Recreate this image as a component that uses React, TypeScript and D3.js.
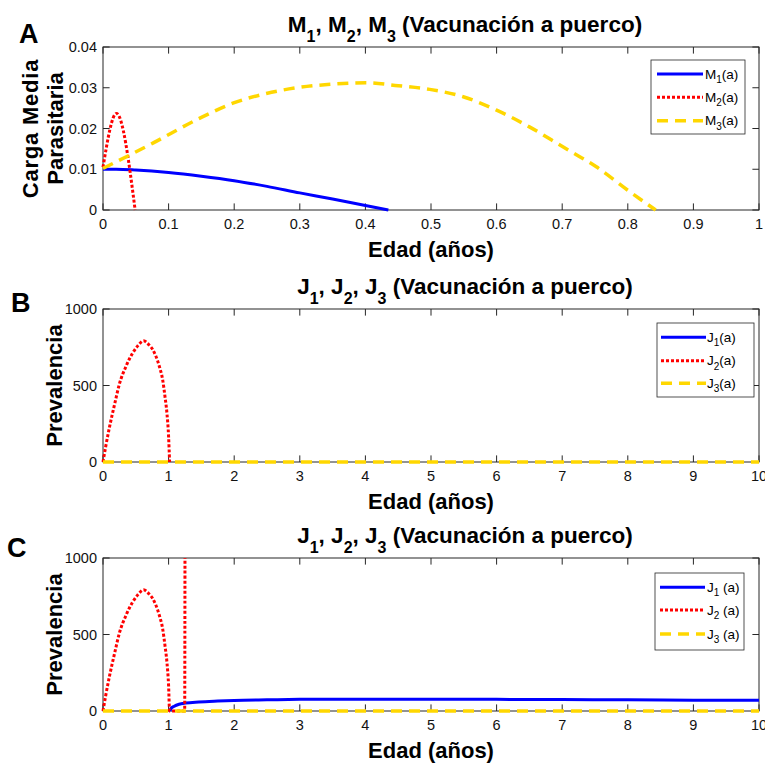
import React from "react";
import * as d3 from "d3";

// ---------- DATA ----------
// Panel A: mean parasite load
const ageA_M1 = [0, 0.02, 0.05, 0.1, 0.15, 0.2, 0.25, 0.3, 0.35, 0.4, 0.435];
const valA_M1 = [0.01, 0.01, 0.0098, 0.0092, 0.0083, 0.0072, 0.0058, 0.0042, 0.0027, 0.0011, 0];
const ageA_M2 = [0, 0.0205, 0.049];
const valA_M2 = [0.0105, 0.0237, 0];
const ageA_M3 = [0, 0.076, 0.147, 0.198, 0.249, 0.3, 0.351, 0.401, 0.45, 0.498, 0.549, 0.6, 0.65, 0.701, 0.752, 0.803, 0.8425];
const valA_M3 = [0.0102, 0.0164, 0.0225, 0.0262, 0.0286, 0.0301, 0.0309, 0.0312, 0.0305, 0.0296, 0.0278, 0.0245, 0.0204, 0.0155, 0.0106, 0.0045, 0];

// Panel B: prevalence
const ageB_J2 = [0, 0.04, 0.1, 0.18, 0.25, 0.35, 0.45, 0.53, 0.62, 0.7, 0.76, 0.86, 0.91, 0.945, 0.975, 1.0, 1.015];
const valB_J2 = [0, 98, 230, 383, 510, 624, 711, 759, 792, 766, 733, 623, 536, 427, 317, 164, 0];
const ageB_J3 = [0, 10];
const valB_J3 = [0, 0];

// Panel C: prevalence
const ageC_J1 = [1.02, 1.035, 1.086, 1.16, 1.26, 1.46, 1.75, 2, 2.5, 3, 4, 5, 6, 7, 8, 9, 10];
const valC_J1 = [0, 15, 31, 44, 52, 59, 65, 69, 73, 76, 77, 77, 76, 75, 73, 71, 70];
const ageC_J2 = [0, 0.04, 0.1, 0.18, 0.25, 0.35, 0.45, 0.53, 0.62, 0.7, 0.76, 0.86, 0.91, 0.945, 0.975, 1.0, 1.015, 1.245, 1.25];
const valC_J2 = [0, 98, 230, 383, 510, 624, 711, 759, 792, 766, 733, 623, 536, 427, 317, 164, 0, 0, 1100];
const ageC_J3 = [0, 10];
const valC_J3 = [0, 0];

// Ticks
const xTicksA = [0, 0.1, 0.2, 0.3, 0.4, 0.5, 0.6, 0.7, 0.8, 0.9, 1];
const xTickLabelsA = ["0", "0.1", "0.2", "0.3", "0.4", "0.5", "0.6", "0.7", "0.8", "0.9", "1"];
const yTicksA = [0, 0.01, 0.02, 0.03, 0.04];
const yTickLabelsA = ["0", "0.01", "0.02", "0.03", "0.04"];
const xTicksJ = [0, 1, 2, 3, 4, 5, 6, 7, 8, 9, 10];
const xTickLabelsJ = ["0", "1", "2", "3", "4", "5", "6", "7", "8", "9", "10"];
const yTicksJ = [0, 500, 1000];
const yTickLabelsJ = ["0", "500", "1000"];

const seriesNamesM = ["M", "M", "M"];
const seriesNamesJ = ["J", "J", "J"];
const xLabel = "Edad (años)";
const titleRest = " (Vacunación a puerco)";

// ---------- STYLE ----------
const FONT = "'Liberation Sans', Arial, Helvetica, sans-serif";
const AX = "#262626";
const BLUE = "#0000ff";
const RED = "#ff0000";
const YEL = "#ffd700";
const styles = [
  { color: BLUE, dash: "", width: 3 },
  { color: RED, dash: "3,2", width: 3 },
  { color: YEL, dash: "11,7", width: 3.5 },
];

type Series = { x: number[]; y: number[]; style: number };

type PanelProps = {
  id: string;
  top: number;
  bottom: number;
  xDomain: [number, number];
  yDomain: [number, number];
  xTicks: number[];
  xTickLabels: string[];
  yTicks: number[];
  yTickLabels: string[];
  series: Series[];
  names: string[];
  legendBox: { x: number; y: number; w: number; h: number; rows: number[]; lx0: number; lx1: number; tx: number; spaced: boolean };
  ylabel: string[];
  ylabelX: number[];
  ylabelSpacing: number[];
  letter: string;
  letterPos: [number, number];
};

const X0 = 103;
const X1 = 759;

function Panel(p: PanelProps) {
  const x = d3.scaleLinear().domain(p.xDomain).range([X0, X1]);
  const y = d3.scaleLinear().domain(p.yDomain).range([p.bottom, p.top]);
  const tl = 6.6;
  const cx = (X0 + X1) / 2;
  const cy = (p.top + p.bottom) / 2;
  const clipId = "clip-" + p.id;
  const sym = p.names[0];
  return (
    <g>
      <defs>
        <clipPath id={clipId}>
          <rect x={X0 - 3} y={p.top} width={X1 - X0 + 6} height={p.bottom - p.top + 4} />
        </clipPath>
      </defs>
      <rect x={X0} y={p.top} width={X1 - X0} height={p.bottom - p.top} fill="white" stroke={AX} strokeWidth={1} />
      {p.xTicks.map((t, i) => (
        <g key={"xt" + i}>
          <line x1={x(t)} x2={x(t)} y1={p.bottom} y2={p.bottom - tl} stroke={AX} />
          <line x1={x(t)} x2={x(t)} y1={p.top} y2={p.top + tl} stroke={AX} />
          <text x={x(t)} y={p.bottom + 19} textAnchor="middle" fontSize={14.5} fontFamily={FONT} fill="#111">
            {p.xTickLabels[i]}
          </text>
        </g>
      ))}
      {p.yTicks.map((t, i) => (
        <g key={"yt" + i}>
          <line x1={X0} x2={X0 + tl} y1={y(t)} y2={y(t)} stroke={AX} />
          <line x1={X1} x2={X1 - tl} y1={y(t)} y2={y(t)} stroke={AX} />
          <text x={97} y={y(t)} dy="0.36em" textAnchor="end" fontSize={14.5} fontFamily={FONT} fill="#111">
            {p.yTickLabels[i]}
          </text>
        </g>
      ))}
      <g clipPath={`url(#${clipId})`}>
        {p.series.map((s, i) => {
          const st = styles[s.style];
          const pts: [number, number][] = s.x.map((v, k) => [v, s.y[k]]);
          const line = d3
            .line<[number, number]>()
            .x((d) => x(d[0]))
            .y((d) => y(d[1]))
            .curve(d3.curveMonotoneX);
          return (
            <path
              key={"s" + i}
              d={line(pts) || ""}
              fill="none"
              stroke={st.color}
              strokeWidth={st.width}
              strokeDasharray={st.dash || undefined}
              strokeLinejoin="round"
            />
          );
        })}
      </g>
      {/* title */}
      <text x={465} y={p.top - 15.5} textAnchor="middle" fontSize={22.5} fontWeight="bold" fontFamily={FONT} fill="#000">
        {sym}
        <tspan fontSize={16} dy={10}>1</tspan>
        <tspan dy={-10}>{", " + sym}</tspan>
        <tspan fontSize={16} dy={10}>2</tspan>
        <tspan dy={-10}>{", " + sym}</tspan>
        <tspan fontSize={16} dy={10}>3</tspan>
        <tspan dy={-10}>{titleRest}</tspan>
      </text>
      {/* x label */}
      <text x={cx} y={p.bottom + 46.5} textAnchor="middle" fontSize={22} fontWeight="bold" fontFamily={FONT} fill="#000">
        {xLabel}
      </text>
      {/* y label */}
      {p.ylabel.map((l, i) => (
        <text
          key={"yl" + i}
          transform={`translate(${p.ylabelX[i]},${cy}) rotate(-90)`}
          textAnchor="middle"
          fontSize={22}
          fontWeight="bold"
          fontFamily={FONT}
          letterSpacing={p.ylabelSpacing[i]}
          fill="#000"
        >
          {l}
        </text>
      ))}
      {/* panel letter */}
      <text x={p.letterPos[0]} y={p.letterPos[1]} fontSize={27} fontWeight="bold" fontFamily={FONT} fill="#000">
        {p.letter}
      </text>
      {/* legend */}
      <rect x={p.legendBox.x} y={p.legendBox.y} width={p.legendBox.w} height={p.legendBox.h} fill="white" stroke={AX} strokeWidth={0.8} />
      {p.legendBox.rows.map((ry, i) => {
        const st = styles[i];
        return (
          <g key={"lg" + i}>
            <line
              x1={p.legendBox.lx0}
              x2={p.legendBox.lx1}
              y1={ry}
              y2={ry}
              stroke={st.color}
              strokeWidth={st.width}
              strokeDasharray={st.dash || undefined}
            />
            <text x={p.legendBox.tx} y={ry + 4.5} fontSize={13.5} fontFamily={FONT} fill="#000">
              {p.names[i]}
              <tspan fontSize={10} dy={4.5}>{String(i + 1)}</tspan>
              <tspan dy={-4.5}>{(p.legendBox.spaced ? " " : "") + "(a)"}</tspan>
            </text>
          </g>
        );
      })}
    </g>
  );
}

export default function App() {
  return (
    <svg width={765} height={766} style={{ position: "absolute", left: 0, top: 0, background: "white" }}>
      <rect x={0} y={0} width={765} height={766} fill="white" />
      <Panel
        id="A"
        top={47}
        bottom={210}
        xDomain={[0, 1]}
        yDomain={[0, 0.04]}
        xTicks={xTicksA}
        xTickLabels={xTickLabelsA}
        yTicks={yTicksA}
        yTickLabels={yTickLabelsA}
        series={[
          { x: ageA_M1, y: valA_M1, style: 0 },
          { x: ageA_M2, y: valA_M2, style: 1 },
          { x: ageA_M3, y: valA_M3, style: 2 },
        ]}
        names={seriesNamesM}
        legendBox={{ x: 651, y: 60, w: 94, h: 74, rows: [74, 97.3, 120.7], lx0: 657, lx1: 703, tx: 705, spaced: false }}
        ylabel={["Carga Media", "Parasitaria"]}
        ylabelX={[38, 63]}
        ylabelSpacing={[0.8, 0]}
        letter="A"
        letterPos={[19, 42.5]}
      />
      <Panel
        id="B"
        top={309}
        bottom={462}
        xDomain={[0, 10]}
        yDomain={[0, 1000]}
        xTicks={xTicksJ}
        xTickLabels={xTickLabelsJ}
        yTicks={yTicksJ}
        yTickLabels={yTickLabelsJ}
        series={[
          { x: ageB_J2, y: valB_J2, style: 1 },
          { x: ageB_J3, y: valB_J3, style: 2 },
        ]}
        names={seriesNamesJ}
        legendBox={{ x: 657, y: 323, w: 97, h: 74, rows: [337.3, 360.7, 383.3], lx0: 661, lx1: 706, tx: 707, spaced: false }}
        ylabel={["Prevalencia"]}
        ylabelX={[62]}
        ylabelSpacing={[0]}
        letter="B"
        letterPos={[11, 311.5]}
      />
      <Panel
        id="C"
        top={558}
        bottom={711}
        xDomain={[0, 10]}
        yDomain={[0, 1000]}
        xTicks={xTicksJ}
        xTickLabels={xTickLabelsJ}
        yTicks={yTicksJ}
        yTickLabels={yTickLabelsJ}
        series={[
          { x: ageC_J1, y: valC_J1, style: 0 },
          { x: ageC_J2, y: valC_J2, style: 1 },
          { x: ageC_J3, y: valC_J3, style: 2 },
        ]}
        names={seriesNamesJ}
        legendBox={{ x: 655, y: 573, w: 89, h: 77, rows: [587.3, 610, 634], lx0: 660, lx1: 705, tx: 707, spaced: true }}
        ylabel={["Prevalencia"]}
        ylabelX={[62]}
        ylabelSpacing={[0]}
        letter="C"
        letterPos={[7, 556.5]}
      />
    </svg>
  );
}
